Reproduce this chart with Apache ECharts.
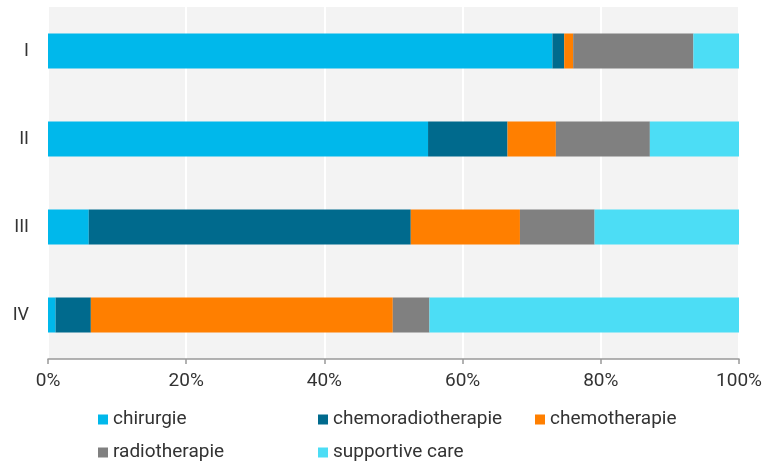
<!DOCTYPE html>
<html><head><meta charset="utf-8">
<script src="https://cdn.jsdelivr.net/npm/echarts@6/dist/echarts.min.js"></script>
<style>html,body{margin:0;padding:0;background:#fff}#c{width:779px;height:462px}</style>
</head><body><div id="c"></div>
<script>
const categories = ['I', 'II', 'III', 'IV'];
const seriesNames = ['chirurgie', 'chemoradiotherapie', 'chemotherapie', 'radiotherapie', 'supportive care'];
const chirurgie = [73.0, 55.0, 5.9, 1.1];
const chemoradiotherapie = [1.7, 11.5, 46.6, 5.1];
const chemotherapie = [1.3, 7.0, 15.8, 43.7];
const radiotherapie = [17.4, 13.6, 10.8, 5.3];
const supportiveCare = [6.6, 12.9, 20.9, 44.8];
const xTicks = [0, 20, 40, 60, 80, 100];

const values = [chirurgie, chemoradiotherapie, chemotherapie, radiotherapie, supportiveCare];
const colors = ['#00B8EB', '#006A8D', '#FF7F00', '#808080', '#4CDDF5'];
const FONT = 'Roboto';
const legendPos = [[98, 410], [318, 410], [535, 410], [98, 443], [318, 443]];

const chart = echarts.init(document.getElementById('c'));
chart.setOption({
  animation: false,
  grid: { left: 48, right: 40, top: 7, bottom: 103, show: true, backgroundColor: '#F3F3F3', borderWidth: 0 },
  xAxis: {
    type: 'value', min: xTicks[0], max: xTicks[xTicks.length - 1], interval: 20,
    axisLine: { show: true, lineStyle: { color: '#999', width: 1.5 } },
    axisTick: { show: true, length: 5, lineStyle: { color: '#999', width: 1.5 } },
    splitLine: { show: true, lineStyle: { color: '#fff', width: 2 } },
    axisLabel: { formatter: v => v + '%', color: '#333', fontFamily: FONT, fontSize: 19, margin: 13 }
  },
  yAxis: {
    type: 'category', data: categories, inverse: true,
    axisLine: { show: false }, axisTick: { show: false }, splitLine: { show: false },
    axisLabel: { color: '#333', fontFamily: FONT, fontSize: 18, margin: 19 }
  },
  legend: seriesNames.map((n, i) => ({
    data: [n], left: legendPos[i][0], top: legendPos[i][1], padding: 0,
    itemWidth: 10, itemHeight: 10, icon: 'rect',
    textStyle: { color: '#333', fontFamily: FONT, fontSize: 19 }
  })),
  series: seriesNames.map((n, i) => ({
    name: n, type: 'bar', stack: 'total', data: values[i], barWidth: 35,
    itemStyle: { color: colors[i] }
  }))
});
</script></body></html>
